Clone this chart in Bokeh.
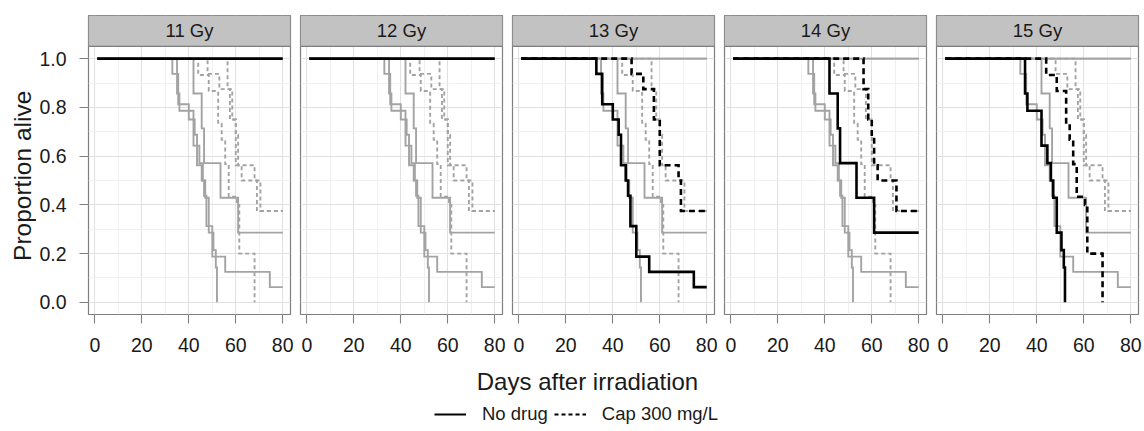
import math
from bokeh.plotting import figure
from bokeh.models import (Range1d, FixedTicker, PrintfTickFormatter, BoxAnnotation,
                          Span, Label, Legend, LegendItem)
from bokeh.layouts import row, column
from bokeh.embed import file_html
from bokeh.resources import INLINE
from bokeh.core.properties import value

# ---------------- data ----------------
dose_labels = ["11 Gy", "12 Gy", "13 Gy", "14 Gy", "15 Gy"]
drug_labels = ["No drug", "Cap 300 mg/L"]
x_ticks = [0, 20, 40, 60, 80]
x_minor = [10, 30, 50, 70]
y_ticks = [0.0, 0.2, 0.4, 0.6, 0.8, 1.0]
y_minor = [0.1, 0.3, 0.5, 0.7, 0.9]
x_title = "Days after irradiation"
y_title = "Proportion alive"

# Kaplan-Meier step points (day, proportion alive)
t_11_nodrug = [1, 80]
s_11_nodrug = [1.0, 1.0]
t_12_nodrug = [1, 80]
s_12_nodrug = [1.0, 1.0]

t_13_nodrug = [1, 33, 35.5, 40, 42.5, 43.5, 45.5, 46.5, 47.5, 50, 55.5, 74.5, 80]
s_13_nodrug = [1.0, 0.9375, 0.8125, 0.75, 0.6875, 0.5625, 0.5, 0.4375, 0.3125,
               0.1875, 0.125, 0.0625, 0.0625]
t_13_cap = [1, 48, 53, 57.5, 60, 68, 69, 80]
s_13_cap = [1.0, 0.9375, 0.875, 0.75, 0.5625, 0.5, 0.375, 0.375]

t_14_nodrug = [1, 42, 45.5, 46.5, 53.5, 61, 80]
s_14_nodrug = [1.0, 0.857, 0.714, 0.571, 0.429, 0.286, 0.286]
t_14_cap = [1, 56.5, 58.5, 60, 61, 62.5, 70.5, 80]
s_14_cap = [1.0, 0.875, 0.75, 0.6875, 0.5625, 0.5, 0.375, 0.375]

t_15_nodrug = [1, 35, 36, 42, 44.5, 46, 47, 48.5, 50.5, 51.5, 52]
s_15_nodrug = [1.0, 0.857, 0.786, 0.643, 0.571, 0.5, 0.429, 0.286, 0.214, 0.143, 0.0]
t_15_cap = [1, 44, 48.5, 52.5, 54, 55.5, 57, 60.5, 61.5, 68]
s_15_cap = [1.0, 0.933, 0.867, 0.733, 0.667, 0.567, 0.433, 0.4, 0.2, 0.0]

curves = [
    ("11 Gy", "No drug", t_11_nodrug, s_11_nodrug),
    ("12 Gy", "No drug", t_12_nodrug, s_12_nodrug),
    ("13 Gy", "No drug", t_13_nodrug, s_13_nodrug),
    ("13 Gy", "Cap 300 mg/L", t_13_cap, s_13_cap),
    ("14 Gy", "No drug", t_14_nodrug, s_14_nodrug),
    ("14 Gy", "Cap 300 mg/L", t_14_cap, s_14_cap),
    ("15 Gy", "No drug", t_15_nodrug, s_15_nodrug),
    ("15 Gy", "Cap 300 mg/L", t_15_cap, s_15_cap),
]

# ---------------- style ----------------
FONT = "Liberation Sans"
TXT = "#1a1a1a"
BORDER = "#7f7f7f"
STRIP = "#c2c2c2"
GREY = "#a3a3a3"
DASH_GREY = "4 3"
DASH_BLACK = "6 4"
XR = (-2.7, 83.3)
YR = (-0.05, 1.177)
STRIP_BOTTOM = 1.05
FRAME_W, FRAME_H = 202, 299
TOP_B, BOT_B = 15, 46
PANEL_H = TOP_B + FRAME_H + BOT_B      # 360
TITLE_W = 36
TICK_FS = "19.5px"

panels = []
n = len(dose_labels)
for i, dose in enumerate(dose_labels):
    first = i == 0
    last = i == n - 1
    p = figure(frame_width=FRAME_W, frame_height=FRAME_H,
               x_range=Range1d(*XR), y_range=Range1d(*YR),
               min_border_top=TOP_B, min_border_bottom=BOT_B,
               min_border_left=50 if first else 7,
               min_border_right=8 if last else 3,
               y_axis_location="left" if first else None,
               output_backend="svg", toolbar_location=None)
    p.background_fill_color = "white"
    p.border_fill_color = "white"
    p.outline_line_color = BORDER
    p.outline_line_width = 1.2

    xt = FixedTicker(ticks=x_ticks, minor_ticks=x_minor)
    yt = FixedTicker(ticks=y_ticks, minor_ticks=y_minor)
    p.xaxis.ticker = xt
    p.xgrid.ticker = xt
    p.ygrid.ticker = yt
    for ax in ([p.xaxis[0]] + ([p.yaxis[0]] if first else [])):
        ax.axis_line_color = None
        ax.major_tick_line_color = BORDER
        ax.major_tick_line_width = 1.1
        ax.major_tick_out = 9
        ax.major_tick_in = 0
        ax.minor_tick_line_color = None
        ax.major_label_text_font = FONT
        ax.major_label_text_font_size = TICK_FS
        ax.major_label_text_color = TXT
    p.xaxis.major_label_standoff = 14
    if first:
        p.yaxis.ticker = yt
        p.yaxis.formatter = PrintfTickFormatter(format="%.1f")
        p.yaxis.major_label_standoff = 13

    p.grid.grid_line_color = "#e1e1e1"
    p.grid.grid_line_width = 1.1
    p.grid.minor_grid_line_color = "#eeeeee"
    p.grid.minor_grid_line_width = 0.9

    # curves: grey background curves first, then highlighted ones
    for (d, drug, t, s) in curves:
        if d == dose:
            continue
        p.step(t, s, mode="after", line_color=GREY, line_width=1.9,
               line_join="miter",
               line_dash="solid" if drug == drug_labels[0] else DASH_GREY)
    for want in (drug_labels[1], drug_labels[0]):
        for (d, drug, t, s) in curves:
            if d == dose and drug == want:
                p.step(t, s, mode="after", line_color="black", line_width=2.6,
                       line_join="miter",
                       line_dash="solid" if drug == drug_labels[0] else DASH_BLACK)

    # facet strip
    p.add_layout(BoxAnnotation(bottom=STRIP_BOTTOM, fill_color=STRIP, fill_alpha=1.0,
                               line_color=BORDER, line_width=1.2))
    p.add_layout(Span(location=STRIP_BOTTOM, dimension="width",
                      line_color=BORDER, line_width=1.2))
    p.add_layout(Label(x=(XR[0] + XR[1]) / 2, y=(STRIP_BOTTOM + YR[1]) / 2,
                       text=dose, text_align="center", text_baseline="middle",
                       text_font=FONT, text_font_size="18.5px", text_color=TXT))
    panels.append(p)

# y-axis title column (y measured up from the figure bottom)
pt = figure(width=TITLE_W, height=PANEL_H, x_range=Range1d(0, TITLE_W),
            y_range=Range1d(0, PANEL_H),
            min_border=0, x_axis_type=None, y_axis_type=None,
            output_backend="svg", toolbar_location=None)
pt.outline_line_color = None
pt.text(x=[22], y=[PANEL_H - 193], text=[y_title], angle=math.pi / 2,
        text_align="center", text_baseline="middle",
        text_font=value(FONT), text_font_size="24.5px", text_color=TXT)

# x-axis title and legend (y = 431 - page y)
BH = 431 - PANEL_H
pb = figure(width=1144, height=BH, x_range=Range1d(0, 1144), y_range=Range1d(0, BH),
            min_border=0, x_axis_type=None, y_axis_type=None,
            output_backend="svg", toolbar_location=None)
pb.outline_line_color = None
pb.text(x=[587], y=[431 - 381], text=[x_title], text_align="center",
        text_baseline="middle", text_font=value(FONT), text_font_size="24px",
        text_color=TXT)
r_solid = pb.line(x=[-50, -40], y=[-50, -50], line_color="black", line_width=2.2)
r_dash = pb.line(x=[-50, -40], y=[-50, -50], line_color="black", line_width=2.2,
                 line_dash="4 3")
leg = Legend(items=[LegendItem(label=drug_labels[0], renderers=[r_solid]),
                    LegendItem(label=drug_labels[1], renderers=[r_dash])],
             orientation="horizontal", location=(434, 6),
             glyph_width=32, glyph_height=20, label_height=20,
             label_standoff=16, spacing=6, padding=0, margin=0,
             border_line_color=None, background_fill_alpha=0,
             label_text_font=FONT, label_text_font_size="18.5px",
             label_text_color=TXT)
pb.add_layout(leg, "center")

layout = column(row(pt, *panels), pb)
open("out.html", "w").write(file_html(layout, INLINE))
